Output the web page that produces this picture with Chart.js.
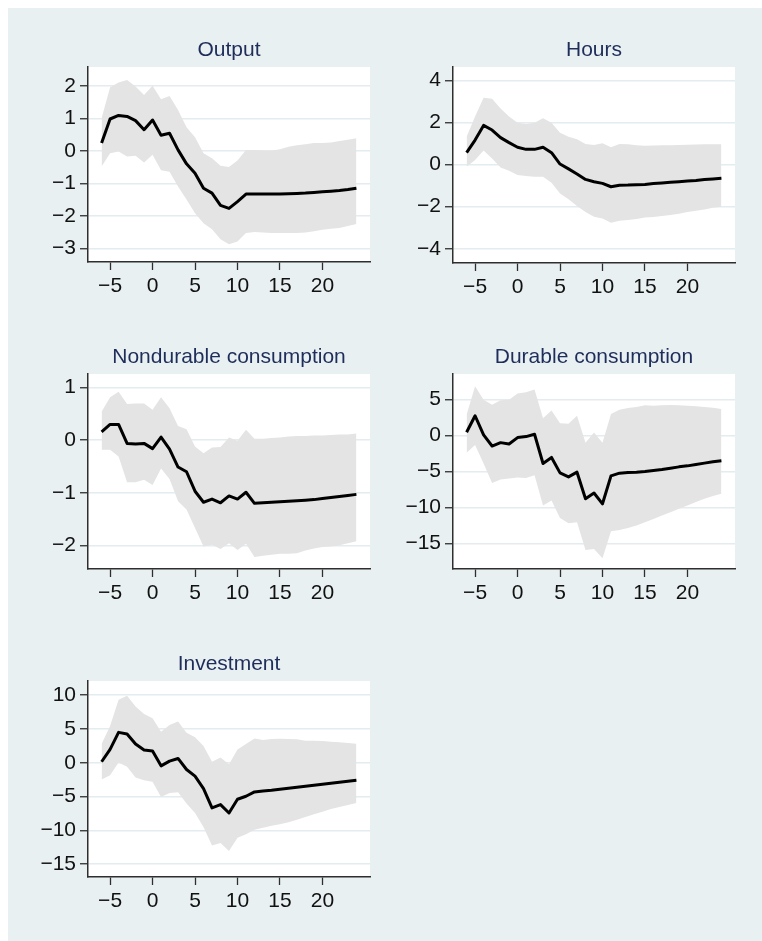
<!DOCTYPE html>
<html>
<head>
<meta charset="utf-8">
<script src="https://cdn.jsdelivr.net/npm/chart.js@4.4.1/dist/chart.umd.min.js"></script>
<style>
  html, body { margin: 0; padding: 0; background: #ffffff; }
  #page { position: relative; width: 762px; height: 941px; overflow: hidden; }
  #bg { position: absolute; left: 8px; top: 8px; width: 754px; height: 933px; background: #e9f0f2; }
  canvas { position: absolute; }
</style>
</head>
<body>
<div id="page">
  <div id="bg"></div>
  <canvas id="c1" width="381" height="307" style="left:0px;top:0px"></canvas>
  <canvas id="c2" width="381" height="308" style="left:381px;top:0px"></canvas>
  <canvas id="c3" width="381" height="307" style="left:0px;top:307px"></canvas>
  <canvas id="c4" width="381" height="307" style="left:381px;top:307px"></canvas>
  <canvas id="c5" width="381" height="308" style="left:0px;top:614px"></canvas>
</div>
<script>
// horizons (x axis)
const horizon = [-6, -5, -4, -3, -2, -1, 0, 1, 2, 3, 4, 5, 6, 7, 8, 9, 10, 11, 12, 13, 14, 15, 16, 17, 18, 19, 20, 21, 22, 23, 24];
const xTicks = [-5, 0, 5, 10, 15, 20];

// Output
const outputIrf = [0.24, 0.98, 1.09, 1.06, 0.93, 0.65, 0.95, 0.48, 0.54, 0.03, -0.40, -0.69, -1.15, -1.30, -1.68, -1.77, -1.56, -1.33, -1.33, -1.33, -1.33, -1.33, -1.32, -1.31, -1.30, -1.28, -1.26, -1.24, -1.22, -1.19, -1.15];
const outputHi = [1.00, 1.96, 2.10, 2.18, 1.98, 1.72, 2.00, 1.59, 1.69, 1.26, 0.73, 0.42, -0.07, -0.23, -0.46, -0.50, -0.30, 0.03, 0.03, 0.01, 0.00, 0.05, 0.13, 0.17, 0.20, 0.24, 0.24, 0.26, 0.30, 0.34, 0.39];
const outputLo = [-0.48, -0.07, -0.02, -0.17, -0.15, -0.36, -0.12, -0.60, -0.64, -1.10, -1.50, -1.92, -2.23, -2.41, -2.72, -2.87, -2.79, -2.53, -2.50, -2.51, -2.53, -2.53, -2.53, -2.53, -2.51, -2.47, -2.43, -2.40, -2.37, -2.31, -2.25];
const outputTicks = [-3, -2, -1, 0, 1, 2];

// Hours
const hoursIrf = [0.57, 1.17, 1.87, 1.65, 1.29, 1.05, 0.83, 0.73, 0.73, 0.83, 0.57, 0.03, -0.20, -0.44, -0.70, -0.81, -0.89, -1.05, -0.98, -0.97, -0.95, -0.94, -0.90, -0.87, -0.84, -0.81, -0.78, -0.75, -0.71, -0.68, -0.65];
const hoursHi = [1.33, 2.29, 3.19, 3.14, 2.68, 2.29, 2.00, 1.94, 2.00, 2.21, 2.00, 1.52, 1.33, 1.21, 0.98, 0.94, 1.02, 0.83, 0.98, 0.97, 0.92, 0.90, 0.91, 0.92, 0.93, 0.94, 0.95, 0.96, 0.97, 0.97, 0.97];
const hoursLo = [-0.10, 0.22, 0.67, 0.30, -0.13, -0.29, -0.49, -0.54, -0.57, -0.57, -0.86, -1.37, -1.65, -1.97, -2.25, -2.48, -2.56, -2.76, -2.67, -2.63, -2.59, -2.52, -2.49, -2.44, -2.40, -2.33, -2.25, -2.19, -2.13, -2.05, -2.00];
const hoursTicks = [-4, -2, 0, 2, 4];

// Nondurable consumption
const ndIrf = [0.16, 0.30, 0.30, -0.06, -0.07, -0.06, -0.16, 0.06, -0.17, -0.51, -0.60, -0.97, -1.18, -1.12, -1.19, -1.06, -1.12, -0.99, -1.20, -1.19, -1.18, -1.17, -1.16, -1.15, -1.14, -1.13, -1.11, -1.09, -1.07, -1.05, -1.03];
const ndHi = [0.54, 0.82, 0.92, 0.69, 0.70, 0.70, 0.58, 0.82, 0.61, 0.27, 0.21, -0.12, -0.25, -0.14, -0.13, 0.05, -0.01, 0.20, 0.03, 0.03, 0.04, 0.05, 0.07, 0.08, 0.08, 0.09, 0.09, 0.10, 0.11, 0.11, 0.13];
const ndLo = [-0.18, -0.18, -0.31, -0.80, -0.80, -0.75, -0.85, -0.54, -0.74, -1.16, -1.32, -1.67, -2.02, -1.99, -2.07, -1.96, -2.09, -1.97, -2.22, -2.20, -2.18, -2.16, -2.16, -2.15, -2.10, -2.06, -2.03, -2.02, -2.00, -1.96, -1.92];
const ndTicks = [-2, -1, 0, 1];

// Durable consumption
const durIrf = [0.47, 2.76, 0.09, -1.45, -0.98, -1.17, -0.28, -0.14, 0.19, -3.88, -3.04, -5.19, -5.75, -5.09, -8.79, -7.99, -9.49, -5.61, -5.23, -5.14, -5.09, -5.00, -4.86, -4.72, -4.53, -4.35, -4.21, -4.02, -3.83, -3.64, -3.50];
const durHi = [2.90, 6.87, 5.00, 4.30, 4.91, 5.00, 5.84, 6.03, 6.40, 2.43, 3.50, 1.73, 1.64, 2.76, -0.98, 0.42, -0.98, 2.99, 3.60, 3.83, 3.97, 4.21, 4.16, 4.21, 4.25, 4.21, 4.16, 4.07, 3.97, 3.88, 3.69];
const durLo = [-2.38, -1.31, -3.88, -6.59, -6.12, -5.98, -5.84, -5.89, -5.51, -9.72, -9.02, -11.45, -12.20, -12.06, -15.93, -15.79, -17.06, -13.32, -13.13, -12.85, -12.52, -12.06, -11.59, -11.12, -10.65, -10.19, -9.72, -9.25, -8.79, -8.41, -8.08];
const durTicks = [-15, -10, -5, 0, 5];

// Investment
const invIrf = [0.15, 1.98, 4.50, 4.26, 2.77, 1.88, 1.73, -0.45, 0.25, 0.64, -0.99, -1.98, -3.81, -6.68, -6.19, -7.43, -5.40, -4.95, -4.31, -4.16, -4.06, -3.91, -3.76, -3.61, -3.47, -3.32, -3.17, -3.02, -2.87, -2.72, -2.57];
const invHi = [2.77, 5.45, 9.31, 9.90, 8.32, 7.23, 6.58, 4.60, 5.59, 6.09, 4.46, 3.76, 2.48, 0.15, 0.79, -0.20, 1.98, 2.77, 3.61, 3.37, 3.51, 3.56, 3.51, 3.47, 3.27, 3.27, 3.22, 3.12, 3.02, 2.92, 2.82];
const invLo = [-2.48, -1.83, 0.05, -0.59, -2.18, -2.57, -2.82, -5.05, -4.46, -4.36, -6.04, -7.43, -9.50, -12.23, -11.88, -13.07, -11.09, -10.59, -9.90, -9.60, -9.31, -9.11, -8.81, -8.42, -8.02, -7.62, -7.23, -6.83, -6.53, -6.24, -5.94];
const invTicks = [-15, -10, -5, 0, 5, 10];

Chart.defaults.font.family = '"Liberation Sans", Arial, sans-serif';
Chart.defaults.font.size = 21;
Chart.defaults.color = '#111111';

const AXIS = '#2e2e2e';
const GRID = '#e3ecef';

// white plot region + panel title centred on the plot
const panelPlugin = {
    id: 'panel',
    beforeDraw(chart) {
        const a = chart.chartArea;
        const ctx = chart.ctx;
        ctx.save();
        ctx.fillStyle = '#ffffff';
        ctx.fillRect(a.left, a.top, a.right - a.left, a.bottom - a.top);
        ctx.restore();
    },
    afterDraw(chart, args, opts) {
        const a = chart.chartArea;
        const ctx = chart.ctx;
        ctx.save();
        ctx.fillStyle = '#1e2d5a';
        ctx.font = '21px "Liberation Sans", Arial, sans-serif';
        ctx.textAlign = 'center';
        ctx.textBaseline = 'middle';
        ctx.fillText(opts.text, (a.left + a.right) / 2, a.top - 17);
        ctx.restore();
    }
};

function fmt(v) {
    return v < 0 ? '\u2212' + Math.abs(v) : String(v);
}

function pts(arr) {
    return horizon.map((h, i) => ({ x: h, y: arr[i] }));
}

function makePanel(id, title, irf, hi, lo, yTicks, yMin, yMax, axisW, padRight) {
    new Chart(document.getElementById(id), {
        type: 'line',
        data: {
            datasets: [
                { data: pts(irf), borderColor: '#000000', borderWidth: 3, borderJoinStyle: 'round', pointRadius: 0, tension: 0, fill: false },
                { data: pts(hi), borderWidth: 0, borderColor: 'rgba(0,0,0,0)', pointRadius: 0, backgroundColor: '#e4e4e4', fill: '+1' },
                { data: pts(lo), borderWidth: 0, borderColor: 'rgba(0,0,0,0)', pointRadius: 0, fill: false }
            ]
        },
        plugins: [panelPlugin],
        options: {
            responsive: false,
            animation: false,
            layout: { padding: { top: 67, right: padRight, left: 0, bottom: 0 } },
            plugins: {
                legend: { display: false },
                tooltip: { enabled: false },
                panel: { text: title }
            },
            scales: {
                x: {
                    type: 'linear',
                    min: -7.6,
                    max: 25.6,
                    afterBuildTicks: (s) => { s.ticks = xTicks.map(v => ({ value: v })); },
                    afterFit: (s) => { s.height = 45; },
                    grid: { drawOnChartArea: false, drawTicks: true, tickLength: 8, tickColor: AXIS, tickWidth: 1.3 },
                    border: { display: true, color: AXIS, width: 1.5 },
                    ticks: { padding: 4, maxRotation: 0, callback: (v) => fmt(v) }
                },
                y: {
                    min: yMin,
                    max: yMax,
                    afterBuildTicks: (s) => { s.ticks = yTicks.map(v => ({ value: v })); },
                    afterFit: (s) => { s.width = axisW; },
                    grid: { color: GRID, lineWidth: 1.5, drawTicks: true, tickLength: 8, tickColor: AXIS, tickWidth: 1.3 },
                    border: { display: true, color: AXIS, width: 1.5 },
                    ticks: { padding: 4, callback: (v) => fmt(v) }
                }
            }
        }
    });
}

makePanel('c1', 'Output', outputIrf, outputHi, outputLo, outputTicks, -3.42, 2.58, 88, 11);
makePanel('c2', 'Hours', hoursIrf, hoursHi, hoursLo, hoursTicks, -4.68, 4.65, 72, 27);
makePanel('c3', 'Nondurable consumption', ndIrf, ndHi, ndLo, ndTicks, -2.45, 1.26, 88, 11);
makePanel('c4', 'Durable consumption', durIrf, durHi, durLo, durTicks, -18.56, 8.57, 72, 27);
makePanel('c5', 'Investment', invIrf, invHi, invLo, invTicks, -16.9, 12.1, 88, 11);
</script>
</body>
</html>
